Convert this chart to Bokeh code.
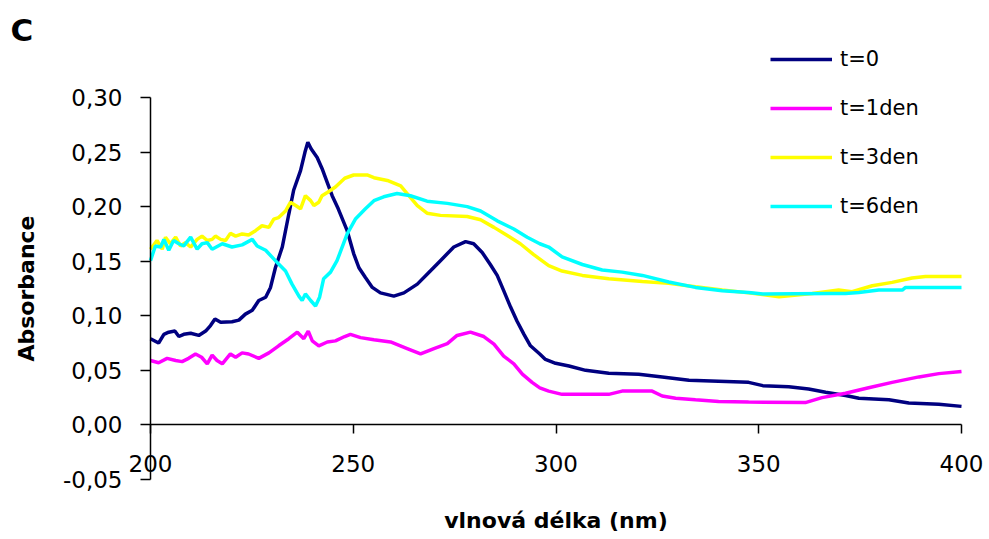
from bokeh.plotting import figure
from bokeh.models import Range1d, FixedTicker, Legend, LegendItem, Label
from bokeh.embed import file_html
from bokeh.resources import INLINE

# ---- data ----
wl_t0 = [200, 202, 203.3, 204.5, 206, 207, 208.2, 209.9, 211.9, 213.6,
         214.8, 215.9, 217.3, 220.1, 221.8, 223.4, 225.1, 226.7, 228.4, 229.6,
         230.8, 232.5, 234.1, 235.3, 237, 238.1, 238.8, 239.6, 241.1, 242.3,
         243.6, 244.8, 246.3, 248.5, 250.1, 251.4, 253, 254.7, 256.7, 260,
         262.5, 265.8, 269, 271.5, 274.8, 277.7, 279.7, 281.8, 283.8, 285.5,
         287.1, 288.8, 290.4, 292.1, 293.7, 296, 297.4, 299.9, 303.2, 307.3,
         313, 320.4, 326.2, 332.8, 340.1, 347.5, 351, 357.4, 362.3, 366.5,
         371.4, 374.7, 382.1, 387, 394.4, 400]
abs_t0 = [0.079, 0.075, 0.083, 0.085, 0.086, 0.081, 0.083, 0.084, 0.082, 0.086,
          0.091, 0.097, 0.094, 0.0945, 0.096, 0.1015, 0.105, 0.114, 0.117, 0.126,
          0.144, 0.163, 0.193, 0.215, 0.233, 0.250, 0.259, 0.253, 0.245, 0.235,
          0.222, 0.210, 0.198, 0.178, 0.157, 0.144, 0.135, 0.126, 0.121, 0.118,
          0.121, 0.129, 0.141, 0.1505, 0.163, 0.168, 0.166, 0.158, 0.147, 0.137,
          0.123, 0.108, 0.095, 0.083, 0.0725, 0.065, 0.060, 0.0565, 0.054, 0.050,
          0.0474, 0.0465, 0.044, 0.041, 0.040, 0.039, 0.036, 0.035, 0.033, 0.030,
          0.027, 0.0245, 0.023, 0.020, 0.019, 0.017]

wl_t1 = [200, 202, 204.1, 206.2, 207.8, 209.4, 211.1, 212.6, 214, 215.2,
         216.4, 217.7, 219.7, 221, 222.6, 224.2, 226.7, 229.2, 231.6, 234.1,
         236.2, 237.8, 238.9, 239.9, 241.5, 243.6, 245.6, 247.9, 249.3, 251.8,
         255.1, 259.2, 263.3, 266.6, 269.9, 273.2, 275.6, 278.9, 282.2, 284.7,
         287.1, 289.6, 291.7, 294.1, 296, 298.2, 301.5, 313, 316.3, 323.7,
         326.2, 329.5, 334.4, 340.1, 347.5, 361.5, 365.6, 371.4, 377.1, 382.9,
         389.5, 394.4, 400]
abs_t1 = [0.059, 0.057, 0.061, 0.059, 0.058, 0.061, 0.065, 0.062, 0.056, 0.064,
          0.059, 0.056, 0.065, 0.062, 0.066, 0.065, 0.061, 0.066, 0.0725, 0.079,
          0.085, 0.079, 0.086, 0.077, 0.0725, 0.076, 0.077, 0.081, 0.083, 0.080,
          0.078, 0.076, 0.070, 0.065, 0.070, 0.0745, 0.082, 0.085, 0.081, 0.074,
          0.063, 0.056, 0.0465, 0.039, 0.034, 0.031, 0.028, 0.028, 0.031, 0.031,
          0.0265, 0.0245, 0.023, 0.0215, 0.021, 0.0205, 0.025, 0.029, 0.034, 0.039,
          0.044, 0.047, 0.049]

wl_t3 = [200, 201.6, 202.9, 203.7, 204.9, 206.2, 207.4, 208.6, 209.9, 211.5,
         212.7, 214, 215.2, 216, 217.3, 218.5, 219.7, 221, 222.6, 224.2,
         225.9, 227.5, 229.2, 230.4, 231.6, 233.3, 234.5, 235.8, 237, 238.2,
         239.5, 240.3, 241.5, 242.3, 243.6, 245.6, 247.9, 250.1, 253.4, 255.1,
         258.4, 261.7, 263.3, 265.8, 268.2, 271.5, 278.1, 281.4, 284.7, 288,
         291.2, 294.5, 298.2, 301.5, 306.5, 313, 321.3, 327.8, 334.4, 341,
         347.5, 355, 363.2, 369.7, 373, 378, 382.9, 387.8, 391.1, 400]
abs_t3 = [0.161, 0.169, 0.161, 0.172, 0.166, 0.172, 0.164, 0.167, 0.163, 0.170,
          0.173, 0.169, 0.170, 0.173, 0.170, 0.169, 0.1755, 0.173, 0.175, 0.174,
          0.178, 0.1825, 0.181, 0.1885, 0.190, 0.196, 0.204, 0.201, 0.198, 0.210,
          0.2055, 0.201, 0.204, 0.210, 0.213, 0.218, 0.226, 0.229, 0.229, 0.2265,
          0.224, 0.219, 0.212, 0.201, 0.194, 0.192, 0.191, 0.188, 0.181, 0.1735,
          0.166, 0.156, 0.146, 0.141, 0.137, 0.134, 0.1315, 0.1297, 0.1266, 0.1236,
          0.121, 0.1175, 0.1205, 0.1236, 0.122, 0.1275, 0.1306, 0.1346, 0.136, 0.136]

wl_t6 = [200, 201.2, 202.5, 203.3, 204.5, 205.7, 207, 208.2, 209.9, 211.5,
         212.7, 214, 215.2, 217.7, 220.1, 222.6, 225.1, 226.3, 228.4, 230.8,
         233.3, 234.9, 236.6, 237.4, 238.2, 239.5, 240.7, 241.7, 242.7, 244.4,
         246, 248.5, 250.6, 253, 255.1, 257.5, 260.8, 264.1, 268.2, 273.2,
         278.1, 281.4, 285.5, 289.6, 292.9, 296, 298.2, 301.5, 306.5, 311.4,
         316.3, 321.3, 327.8, 334.4, 341, 347.5, 351, 367.3, 371.4, 374.7,
         379.6, 385.4, 386.2, 400]
abs_t6 = [0.1505, 0.164, 0.163, 0.170, 0.160, 0.169, 0.166, 0.164, 0.172, 0.161,
          0.166, 0.167, 0.161, 0.166, 0.163, 0.165, 0.170, 0.164, 0.160, 0.1505,
          0.141, 0.129, 0.118, 0.114, 0.120, 0.114, 0.109, 0.117, 0.134, 0.140,
          0.1505, 0.175, 0.189, 0.198, 0.2055, 0.209, 0.212, 0.210, 0.205, 0.203,
          0.200, 0.196, 0.187, 0.1795, 0.172, 0.166, 0.163, 0.154, 0.147, 0.142,
          0.140, 0.137, 0.131, 0.126, 0.123, 0.1214, 0.120, 0.1205, 0.1205, 0.1214,
          0.1236, 0.1236, 0.126, 0.126]

series_labels = ["t=0", "t=1den", "t=3den", "t=6den"]
series_colors = ["#000080", "#FF00FF", "#FFFF00", "#00FFFF"]

x_ticks = [200, 250, 300, 350, 400]
x_tick_labels = ["200", "250", "300", "350", "400"]
y_ticks = [-0.05, 0.0, 0.05, 0.10, 0.15, 0.20, 0.25, 0.30]
y_tick_labels = ["-0,05", "0,00", "0,05", "0,10", "0,15", "0,20", "0,25", "0,30"]

panel_label = "C"
x_title = "vlnová délka (nm)"
y_title = "Absorbance"

FONT = "DejaVu Sans"

# ---- layout (pixels) ----
W, H = 985, 535
AX_L, AX_R = 150, 961      # x = 200 .. 400
AX_T, AX_B = 97, 479       # y = 0.30 .. -0.05
X0, X1 = x_ticks[0], x_ticks[-1]
Y0, Y1 = y_ticks[0], y_ticks[-1]
sx = (AX_R - AX_L) / (X1 - X0)
sy = (AX_B - AX_T) / (Y1 - Y0)
x_range = Range1d(X0 - AX_L / sx, X1 + (W - AX_R) / sx)
y_range = Range1d(Y0 - (H - AX_B) / sy, Y1 + AX_T / sy)

p = figure(width=W, height=H, x_range=x_range, y_range=y_range,
           output_backend="svg", toolbar_location=None,
           min_border_left=0, min_border_right=0,
           min_border_top=0, min_border_bottom=0)
p.outline_line_color = None
p.xgrid.visible = False
p.ygrid.visible = False
p.background_fill_color = "white"
p.border_fill_color = "white"

renderers = []
for wl, ab, col in zip([wl_t0, wl_t1, wl_t3, wl_t6],
                       [abs_t0, abs_t1, abs_t3, abs_t6], series_colors):
    r = p.line(wl, ab, line_color=col, line_width=3.5)
    renderers.append(r)

# x axis crossing at y = 0
xa = p.xaxis[0]
xa.fixed_location = 0
xa.bounds = (X0, X1)
xa.ticker = FixedTicker(ticks=x_ticks)
xa.major_label_overrides = dict(zip(x_ticks, x_tick_labels))
xa.minor_tick_line_color = None
xa.major_tick_in = 0
xa.major_tick_out = 9
xa.axis_line_color = "black"
xa.axis_line_width = 1.5
xa.major_tick_line_color = "black"
xa.major_tick_line_width = 1.5
xa.major_label_text_font = FONT
xa.major_label_text_font_size = "23px"
xa.major_label_text_color = "black"
xa.major_label_standoff = 21
xa.axis_label = x_title
xa.axis_label_text_font = FONT
xa.axis_label_text_font_size = "22px"
xa.axis_label_text_font_style = "bold"
xa.axis_label_text_color = "black"
xa.axis_label_standoff = 33

ya = p.yaxis[0]
ya.fixed_location = X0
ya.bounds = (Y0, Y1)
ya.ticker = FixedTicker(ticks=y_ticks)
ya.major_label_overrides = dict(zip(y_ticks, y_tick_labels))
ya.minor_tick_line_color = None
ya.major_tick_in = 0
ya.major_tick_out = 10
ya.axis_line_color = "black"
ya.axis_line_width = 1.5
ya.major_tick_line_color = "black"
ya.major_tick_line_width = 1.5
ya.major_label_text_font = FONT
ya.major_label_text_font_size = "23px"
ya.major_label_text_color = "black"
ya.major_label_standoff = 18
ya.axis_label = y_title
ya.axis_label_text_font = FONT
ya.axis_label_text_font_size = "22px"
ya.axis_label_text_font_style = "bold"
ya.axis_label_text_color = "black"
ya.axis_label_standoff = 21

legend = Legend(items=[LegendItem(label=lab, renderers=[r])
                       for lab, r in zip(series_labels, renderers)],
                location=(770, H - 218), orientation="vertical",
                glyph_width=62, glyph_height=24, label_height=24,
                label_width=60, spacing=25, padding=0, margin=0,
                label_standoff=8, border_line_color=None,
                background_fill_alpha=0,
                label_text_font=FONT, label_text_font_size="21px",
                label_text_color="black")
p.add_layout(legend, "center")

p.add_layout(Label(x=10, y=H - 29, x_units="screen", y_units="screen",
                   text=panel_label, text_font=FONT, text_font_size="31px",
                   text_font_style="bold", text_color="black",
                   text_baseline="alphabetic", text_align="left"))

open("out.html", "w").write(file_html(p, INLINE))
